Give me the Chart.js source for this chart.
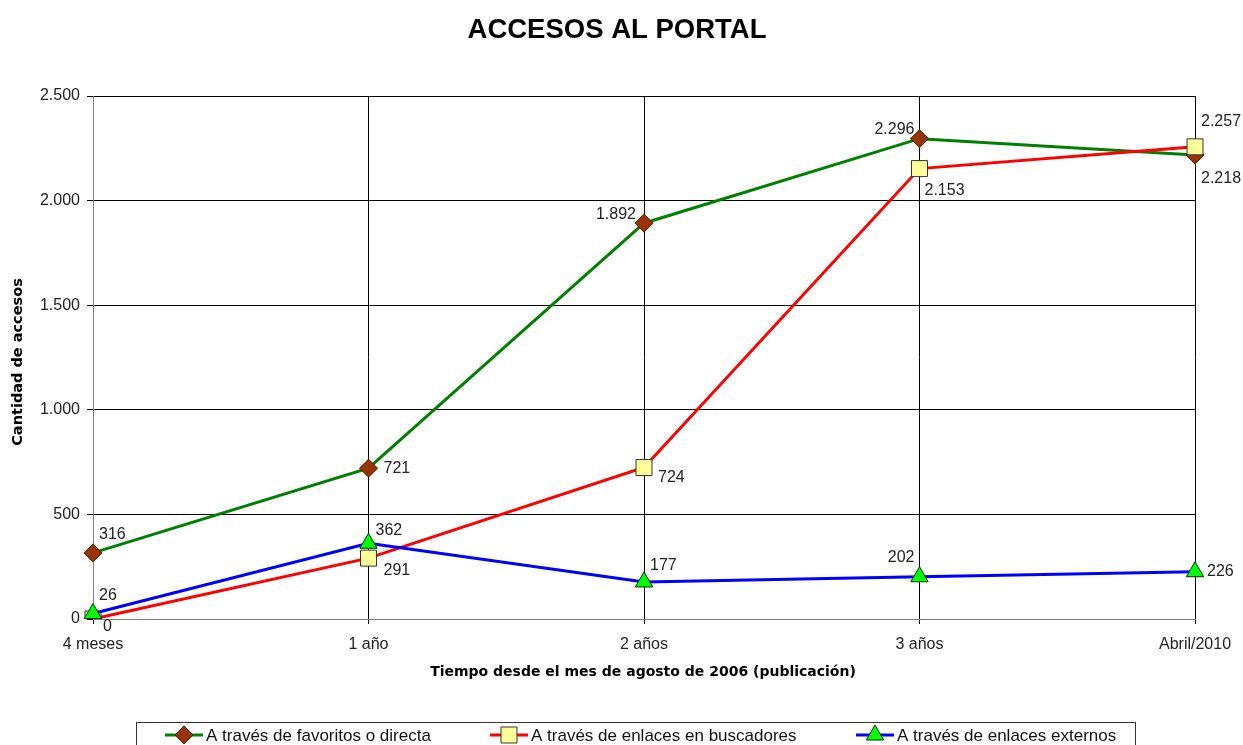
<!DOCTYPE html>
<html>
<head>
<meta charset="utf-8">
<script src="https://cdn.jsdelivr.net/npm/chart.js@4"></script>
<style>
  html, body { margin:0; padding:0; background:#fff; }
  #wrap { width:1243px; height:745px; position:relative; }
</style>
</head>
<body>
<div id="wrap"><canvas id="c" width="1243" height="745"></canvas></div>
<script>
const categories = ['4 meses', '1 año', '2 años', '3 años', 'Abril/2010'];
const favoritos = [316, 721, 1892, 2296, 2218];
const buscadores = [0, 291, 724, 2153, 2257];
const externos = [26, 362, 177, 202, 226];
const seriesNames = ['A través de favoritos o directa', 'A través de enlaces en buscadores', 'A través de enlaces externos'];
const yTicks = [0, 500, 1000, 1500, 2000, 2500];

function fmt(v) {
  return String(v).replace(/\B(?=(\d{3})+(?!\d))/g, '.');
}

// label placement: [dx, dy, align] per series per point (styling only)
const labelPlacement = [
  [[6,-18,'left'],[15,0,'left'],[-8,-9,'right'],[-5,-9,'right'],[6,24,'left']],
  [[10,8,'left'],[15,12,'left'],[14,10,'left'],[5,22,'left'],[6,-25,'left']],
  [[6,-18,'left'],[7,-13,'left'],[6,-16,'left'],[-5,-19,'right'],[12,0,'left']]
];

const FONT = '"Liberation Sans", Arial, sans-serif';

const decor = {
  id: 'decor',
  afterDatasetsDraw(chart) {
    const ctx = chart.ctx;
    ctx.save();
    ctx.font = '16px ' + FONT;
    ctx.fillStyle = '#222';
    ctx.textBaseline = 'middle';
    chart.data.datasets.forEach((ds, i) => {
      const meta = chart.getDatasetMeta(i);
      meta.data.forEach((pt, j) => {
        const p = labelPlacement[i][j];
        ctx.textAlign = p[2];
        ctx.fillText(fmt(ds.data[j]), pt.x + p[0], pt.y + p[1]);
      });
    });
    ctx.restore();
  },
  afterDraw(chart) {
    const ctx = chart.ctx;
    ctx.save();
    // title
    ctx.fillStyle = '#000';
    ctx.textAlign = 'center';
    ctx.textBaseline = 'middle';
    ctx.font = 'bold 27.5px ' + FONT;
    ctx.fillText('ACCESOS AL PORTAL', 617, 30);
    // axis titles
    ctx.font = 'bold 14px "DejaVu Sans", sans-serif';
    ctx.fillText('Tiempo desde el mes de agosto de 2006 (publicación)', 643, 672);
    ctx.save();
    ctx.translate(18, 362);
    ctx.rotate(-Math.PI / 2);
    ctx.font = 'bold 14.5px "DejaVu Sans", sans-serif';
    ctx.fillText('Cantidad de accesos', 0, 0);
    ctx.restore();
    // legend
    ctx.strokeStyle = '#333';
    ctx.lineWidth = 1;
    ctx.strokeRect(136.5, 722.5, 999, 40);
    const starts = [165, 490, 856];
    ctx.font = '17px ' + FONT;
    ctx.textAlign = 'left';
    chart.data.datasets.forEach((ds, i) => {
      const x0 = starts[i], y0 = 735;
      ctx.strokeStyle = ds.borderColor;
      ctx.lineWidth = 3;
      ctx.beginPath();
      ctx.moveTo(x0, y0);
      ctx.lineTo(x0 + 38, y0);
      ctx.stroke();
      ctx.fillStyle = ds.pointBackgroundColor;
      ctx.strokeStyle = ds.pointBorderColor;
      ctx.lineWidth = 1;
      Chart.helpers.drawPoint(ctx, {pointStyle: ds.pointStyle, radius: ds.pointRadius, rotation: 0, borderWidth: 1}, x0 + 19, y0);
      ctx.fillStyle = '#111';
      ctx.fillText(ds.label, x0 + 41, y0 + 1);
    });
    ctx.restore();
  }
};

new Chart(document.getElementById('c'), {
  type: 'line',
  data: {
    labels: categories,
    datasets: [
      {
        label: seriesNames[0], data: favoritos, order: 2,
        borderColor: '#008000', borderWidth: 3,
        pointStyle: 'rectRot', pointRadius: 9, pointHoverRadius: 9,
        pointBackgroundColor: '#993300', pointBorderColor: '#4d1a00', pointBorderWidth: 1,
        tension: 0, fill: false
      },
      {
        label: seriesNames[1], data: buscadores, order: 1,
        borderColor: '#FF0000', borderWidth: 3,
        pointStyle: 'rect', pointRadius: 11.3, pointHoverRadius: 11.3,
        pointBackgroundColor: '#FFFF99', pointBorderColor: '#333', pointBorderWidth: 1,
        tension: 0, fill: false
      },
      {
        label: seriesNames[2], data: externos, order: 0,
        borderColor: '#0000FF', borderWidth: 3,
        pointStyle: 'triangle', pointRadius: 10, pointHoverRadius: 10,
        pointBackgroundColor: '#00FF00', pointBorderColor: '#003300', pointBorderWidth: 1,
        tension: 0, fill: false
      }
    ]
  },
  options: {
    responsive: false,
    animation: false,
    events: [],
    layout: { padding: { left: 0, top: 96, right: 48, bottom: 0 } },
    plugins: { legend: { display: false }, title: { display: false }, tooltip: { enabled: false } },
    scales: {
      x: {
        offset: false,
        grid: { color: '#000', lineWidth: 1, tickLength: 5, drawTicks: true },
        border: { color: '#808080', width: 1 },
        ticks: { color: '#222', font: { family: FONT, size: 16 }, padding: 11, maxRotation: 0, autoSkip: false },
        afterFit(scale) { scale.height = 126; }
      },
      y: {
        min: 0, max: 2500,
        afterBuildTicks(scale) { scale.ticks = yTicks.map(v => ({ value: v })); },
        grid: { color: '#000', lineWidth: 1, tickLength: 6 },
        border: { color: '#808080', width: 1 },
        ticks: { color: '#222', font: { family: FONT, size: 16 }, padding: 7, callback: v => fmt(v) },
        afterFit(scale) { scale.width = 93; }
      }
    }
  },
  plugins: [decor]
});
</script>
</body>
</html>
